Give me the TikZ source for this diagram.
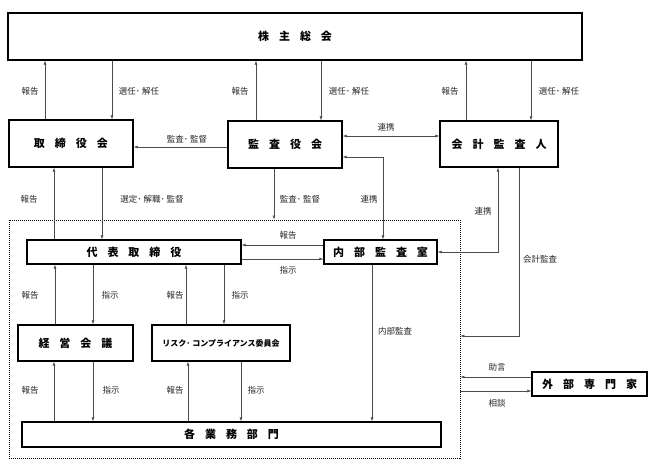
\documentclass[tikz,border=0pt]{standalone}
\usepackage{fontspec}
\setmainfont{Noto Sans CJK JP}
\usetikzlibrary{arrows.meta}
\newcommand{\jsp}{\hspace{10pt}}

\begin{document}
\begin{tikzpicture}[x=1pt,y=-1pt,>={Latex[length=4pt,width=3pt]},
  org/.style={draw=black,line width=1.2pt,inner sep=0pt,font=\bfseries\fontsize{11}{13}\selectfont},
  lbl/.style={inner sep=1pt,text=black!85,font=\fontsize{8.5}{10}\selectfont},
  arr/.style={draw=black!70,line width=0.6pt}]
\useasboundingbox (0,0) rectangle (656,468);

\node[draw=black,line width=0.9pt,dash pattern=on 1pt off 1pt,minimum width=451pt,minimum height=238pt] (group) at (234.5,339) {};

\node[org,minimum width=574pt,minimum height=47pt] (kabu) at (295,36.5) {株\jsp 主\jsp 総\jsp 会};
\node[org,minimum width=124pt,minimum height=47pt] (tori) at (71,143.5) {取\jsp 締\jsp 役\jsp 会};
\node[org,minimum width=114pt,minimum height=47pt] (kansa) at (285,144.5) {監\jsp 査\jsp 役\jsp 会};
\node[org,minimum width=118pt,minimum height=46pt] (kaikei) at (499,144) {会\jsp 計\jsp 監\jsp 査\jsp 人};
\node[org,minimum width=214pt,minimum height=24pt] (daihyo) at (134,252) {代\jsp 表\jsp 取\jsp 締\jsp 役};
\node[org,minimum width=113pt,minimum height=24pt] (naibu) at (380.5,252) {内\jsp 部\jsp 監\jsp 査\jsp 室};
\node[org,minimum width=115pt,minimum height=36pt] (keiei) at (75.5,343) {経\jsp 営\jsp 会\jsp 議};
\node[org,minimum width=138pt,minimum height=36pt,font=\bfseries\fontsize{8}{10}\selectfont] (risk) at (221,343) {リスク･ コンプライアンス委員会};
\node[org,minimum width=419pt,minimum height=25pt] (gyomu) at (231.5,434.5) {各\jsp 業\jsp 務\jsp 部\jsp 門};
\node[org,minimum width=115pt,minimum height=24pt] (gaibu) at (589.5,384) {外\jsp 部\jsp 専\jsp 門\jsp 家};

% 株主総会
\draw[arr,->] ([xshift=-26pt]tori.north) -- ([xshift=-26pt]tori.north |- kabu.south);
\draw[arr,->] ([xshift=41pt]tori.north |- kabu.south) -- ([xshift=41pt]tori.north);
\draw[arr,->] ([xshift=-29pt]kansa.north) -- ([xshift=-29pt]kansa.north |- kabu.south);
\draw[arr,->] ([xshift=36pt]kansa.north |- kabu.south) -- ([xshift=36pt]kansa.north);
\draw[arr,->] ([xshift=-33pt]kaikei.north) -- ([xshift=-33pt]kaikei.north |- kabu.south);
\draw[arr,->] ([xshift=32pt]kaikei.north |- kabu.south) -- ([xshift=32pt]kaikei.north);

% 監査役会
\draw[arr,->] ([yshift=-2.5pt]kansa.west) -- ([yshift=-2.5pt]kansa.west -| tori.east);
\draw[arr,<->] ([yshift=8.5pt]kansa.east) -- ([yshift=8.5pt]kansa.east -| kaikei.west);
\draw[arr,<->] ([yshift=-12.5pt]kansa.east) -| ([xshift=2.5pt]naibu.north);
\draw[arr,->] ([xshift=-11pt]kansa.south) -- ([xshift=-11pt]kansa.south |- group.north);

% 取締役会 - 代表取締役
\draw[arr,->] ([xshift=-17pt]tori.south |- daihyo.north) -- ([xshift=-17pt]tori.south);
\draw[arr,->] ([xshift=31pt]tori.south) -- ([xshift=31pt]tori.south |- daihyo.north);
\draw[arr,->] ([yshift=7pt]naibu.west) -- ([yshift=7pt]naibu.west -| daihyo.east);
\draw[arr,->] ([yshift=-7pt]daihyo.east) -- ([yshift=-7pt]daihyo.east -| naibu.west);

% 会計監査人
\draw[arr,<->] (naibu.east) -| ([xshift=-1pt]kaikei.south);
\draw[arr,->] ([xshift=20pt]kaikei.south) |- ([yshift=3pt]group.east);

% 経営会議, 委員会
\draw[arr,->] ([xshift=-20.5pt]keiei.north) -- ([xshift=-20.5pt]keiei.north |- daihyo.south);
\draw[arr,->] ([xshift=17.5pt]keiei.north |- daihyo.south) -- ([xshift=17.5pt]keiei.north);
\draw[arr,->] ([xshift=-35pt]risk.north) -- ([xshift=-35pt]risk.north |- daihyo.south);
\draw[arr,->] ([xshift=3pt]risk.north |- daihyo.south) -- ([xshift=3pt]risk.north);
\draw[arr,->] ([xshift=-21.5pt]keiei.south |- gyomu.north) -- ([xshift=-21.5pt]keiei.south);
\draw[arr,->] ([xshift=17.5pt]keiei.south) -- ([xshift=17.5pt]keiei.south |- gyomu.north);
\draw[arr,->] ([xshift=-33pt]risk.south |- gyomu.north) -- ([xshift=-33pt]risk.south);
\draw[arr,->] ([xshift=20pt]risk.south) -- ([xshift=20pt]risk.south |- gyomu.north);
\draw[arr,->] ([xshift=-8.5pt]naibu.south) -- ([xshift=-8.5pt]naibu.south |- gyomu.north);

% 外部専門家
\draw[arr,->] ([yshift=7pt]gaibu.west) -- ([yshift=7pt]gaibu.west -| group.east);
\draw[arr,->] ([yshift=-7pt]gaibu.west -| group.east) -- ([yshift=-7pt]gaibu.west);

\node[lbl] (rep1) at (30,91) {報告};
\node[lbl] (sel1) at (139,91) {選任･ 解任};
\node[lbl] (rep2) at (240,91) {報告};
\node[lbl] (sel2) at (349,91) {選任･ 解任};
\node[lbl] (rep3) at (450,91) {報告};
\node[lbl] (sel3) at (559,91) {選任･ 解任};
\node[lbl] (aud1) at (187,139) {監査･ 監督};
\node[lbl] (coop1) at (386,127) {連携};
\node[lbl] (rep4) at (29,199) {報告};
\node[lbl] (appt) at (152,199) {選定･ 解職･ 監督};
\node[lbl] (aud2) at (300,199) {監査･ 監督};
\node[lbl] (coop2) at (369,199) {連携};
\node[lbl] (coop3) at (483,211) {連携};
\node[lbl] (acct) at (540,259) {会計監査};
\node[lbl] (rep5) at (288,235) {報告};
\node[lbl] (ins1) at (288,270) {指示};
\node[lbl] (rep6) at (30,295) {報告};
\node[lbl] (ins2) at (110,295) {指示};
\node[lbl] (rep7) at (175,295) {報告};
\node[lbl] (ins3) at (240,295) {指示};
\node[lbl] (inaud) at (395,331) {内部監査};
\node[lbl] (rep8) at (30,390) {報告};
\node[lbl] (ins4) at (111,390) {指示};
\node[lbl] (rep9) at (175,390) {報告};
\node[lbl] (ins5) at (256,390) {指示};
\node[lbl] (adv) at (497,367) {助言};
\node[lbl] (cons) at (497,403) {相談};
\end{tikzpicture}
\end{document}
